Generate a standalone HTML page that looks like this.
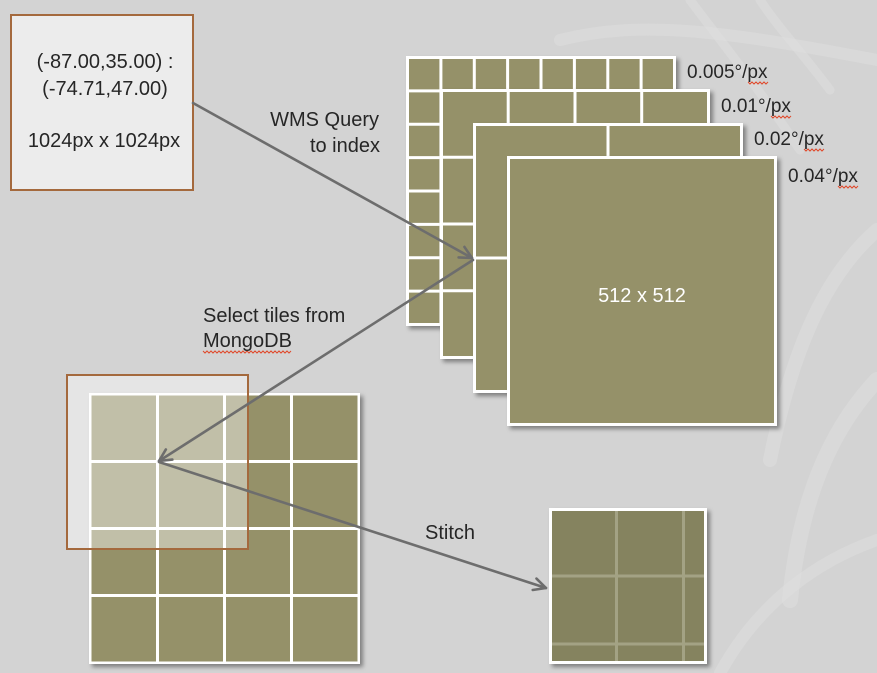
<!DOCTYPE html>
<html><head><meta charset="utf-8">
<style>
html,body{margin:0;padding:0;}
body{width:877px;height:673px;overflow:hidden;background:#d3d3d3;}
svg{display:block;}
text{font-family:"Liberation Sans",sans-serif;}
</style></head>
<body>
<svg width="877" height="673" viewBox="0 0 877 673" xmlns="http://www.w3.org/2000/svg">
<defs>
<filter id="sh" x="-10%" y="-10%" width="125%" height="125%">
<feDropShadow dx="3" dy="3" stdDeviation="2" flood-color="#000" flood-opacity="0.4"/>
</filter>
<marker id="ah" viewBox="0 0 16 16" refX="14" refY="8" markerWidth="16" markerHeight="16" markerUnits="userSpaceOnUse" orient="auto">
<path d="M2,2 L14,8 L2,14" fill="none" stroke="#6d6d6d" stroke-width="2.6" stroke-linecap="round" stroke-linejoin="round"/>
</marker>
</defs>

<!-- background -->
<rect x="0" y="0" width="877" height="673" fill="#d3d3d3"/>
<g fill="none" stroke="#dedede" stroke-opacity="0.6" stroke-linecap="round">
<path d="M560,40 C640,20 720,30 877,60" stroke-width="12"/>
<path d="M690,0 C720,40 760,90 800,150" stroke-width="9"/>
<path d="M760,0 C780,30 800,50 830,90" stroke-width="9"/>
<path d="M877,230 C820,280 790,360 770,460" stroke-width="14"/>
<path d="M877,380 C830,430 800,500 790,600" stroke-width="16"/>
<path d="M720,673 C760,600 820,560 877,540" stroke-width="12"/>
</g>

<!-- top-left query box -->
<rect x="11" y="15" width="182" height="175" fill="#ececec" stroke="#a4693d" stroke-width="2"/>
<g fill="#262626" font-size="20" text-anchor="middle">
<text x="105" y="68">(-87.00,35.00) :</text>
<text x="105" y="95">(-74.71,47.00)</text>
<text x="104" y="147">1024px x 1024px</text>
</g>

<!-- Layer 1: 8x8 -->
<g filter="url(#sh)">
<rect x="406" y="56" width="270" height="270" fill="#ffffff"/>
</g>
<rect x="409" y="59" width="264" height="264" fill="#959169"/>
<g stroke="#ffffff" stroke-width="3">
<line x1="440.9" y1="56" x2="440.9" y2="326"/>
<line x1="474.3" y1="56" x2="474.3" y2="326"/>
<line x1="507.6" y1="56" x2="507.6" y2="326"/>
<line x1="541" y1="56" x2="541" y2="326"/>
<line x1="574.4" y1="56" x2="574.4" y2="326"/>
<line x1="607.8" y1="56" x2="607.8" y2="326"/>
<line x1="641.1" y1="56" x2="641.1" y2="326"/>
<line x1="406" y1="90.9" x2="676" y2="90.9"/>
<line x1="406" y1="124.3" x2="676" y2="124.3"/>
<line x1="406" y1="157.6" x2="676" y2="157.6"/>
<line x1="406" y1="191" x2="676" y2="191"/>
<line x1="406" y1="224.4" x2="676" y2="224.4"/>
<line x1="406" y1="257.8" x2="676" y2="257.8"/>
<line x1="406" y1="291.1" x2="676" y2="291.1"/>
</g>

<!-- Layer 2: 4x4 -->
<g filter="url(#sh)">
<rect x="440" y="89" width="270" height="270" fill="#ffffff"/>
</g>
<rect x="443" y="92" width="264" height="264" fill="#959169"/>
<g stroke="#ffffff" stroke-width="3">
<line x1="508.2" y1="89" x2="508.2" y2="359"/>
<line x1="575" y1="89" x2="575" y2="359"/>
<line x1="641.7" y1="89" x2="641.7" y2="359"/>
<line x1="440" y1="157.2" x2="710" y2="157.2"/>
<line x1="440" y1="224" x2="710" y2="224"/>
<line x1="440" y1="290.7" x2="710" y2="290.7"/>
</g>

<!-- Layer 3: 2x2 -->
<g filter="url(#sh)">
<rect x="473" y="123" width="270" height="270" fill="#ffffff"/>
</g>
<rect x="476" y="126" width="264" height="264" fill="#959169"/>
<g stroke="#ffffff" stroke-width="3">
<line x1="608" y1="123" x2="608" y2="393"/>
<line x1="473" y1="258" x2="743" y2="258"/>
</g>

<!-- Layer 4: single -->
<g filter="url(#sh)">
<rect x="507" y="156" width="270" height="270" fill="#ffffff"/>
</g>
<rect x="510" y="159" width="264" height="264" fill="#959169"/>
<text x="642" y="302" font-size="20" fill="#ffffff" text-anchor="middle">512 x 512</text>

<!-- layer labels -->
<g fill="#262626" font-size="19">
<text x="687" y="78">0.005°/px</text>
<text x="721" y="112">0.01°/px</text>
<text x="754" y="145">0.02°/px</text>
<text x="788" y="182">0.04°/px</text>
</g>
<g fill="none" stroke="#e0482a" stroke-width="1">
<path d="M748,82 l2,2 l2,-2 l2,2 l2,-2 l2,2 l2,-2 l2,2 l2,-2 l2,2 l2,-2"/>
<path d="M771,116 l2,2 l2,-2 l2,2 l2,-2 l2,2 l2,-2 l2,2 l2,-2 l2,2 l2,-2"/>
<path d="M804,149 l2,2 l2,-2 l2,2 l2,-2 l2,2 l2,-2 l2,2 l2,-2 l2,2 l2,-2"/>
<path d="M838,186 l2,2 l2,-2 l2,2 l2,-2 l2,2 l2,-2 l2,2 l2,-2 l2,2 l2,-2"/>
<path d="M203,351 l2,2 l2,-2 l2,2 l2,-2 l2,2 l2,-2 l2,2 l2,-2 l2,2 l2,-2 l2,2 l2,-2 l2,2 l2,-2 l2,2 l2,-2 l2,2 l2,-2 l2,2 l2,-2 l2,2 l2,-2 l2,2 l2,-2 l2,2 l2,-2 l2,2 l2,-2 l2,2 l2,-2 l2,2 l2,-2 l2,2 l2,-2 l2,2 l2,-2 l2,2 l2,-2 l2,2 l2,-2 l2,2 l2,-2 l2,2 l2,-2"/>
</g>

<!-- bottom 4x4 grid -->
<g filter="url(#sh)">
<rect x="89" y="393" width="271" height="271" fill="#ffffff"/>
</g>
<rect x="91.5" y="395.5" width="266" height="266" fill="#959169"/>
<g stroke="#ffffff" stroke-width="3">
<line x1="157.5" y1="393" x2="157.5" y2="664"/>
<line x1="224.5" y1="393" x2="224.5" y2="664"/>
<line x1="291.5" y1="393" x2="291.5" y2="664"/>
<line x1="89" y1="461.5" x2="360" y2="461.5"/>
<line x1="89" y1="528.5" x2="360" y2="528.5"/>
<line x1="89" y1="595.5" x2="360" y2="595.5"/>
</g>
<!-- overlay box -->
<rect x="67" y="375" width="181" height="174" fill="#ffffff" fill-opacity="0.42" stroke="#a4693d" stroke-width="2"/>

<!-- stitched result -->
<g filter="url(#sh)">
<rect x="549" y="508" width="158" height="156" fill="#ffffff"/>
</g>
<rect x="552" y="511" width="152" height="150" fill="#85835f"/>
<g stroke="#a3a284" stroke-width="3">
<line x1="616.5" y1="511" x2="616.5" y2="661"/>
<line x1="683.5" y1="511" x2="683.5" y2="661"/>
<line x1="552" y1="576" x2="704" y2="576"/>
<line x1="552" y1="644" x2="704" y2="644"/>
</g>

<!-- labels -->
<g fill="#262626" font-size="20">
<text x="379" y="126" text-anchor="end">WMS Query</text>
<text x="380" y="152" text-anchor="end">to index</text>
<text x="203" y="322">Select tiles from</text>
<text x="203" y="347">MongoDB</text>
<text x="425" y="539">Stitch</text>
</g>

<!-- arrows -->
<g stroke="#6d6d6d" stroke-width="2.6" fill="none" stroke-linecap="round">
<line x1="193" y1="103" x2="472" y2="258" marker-end="url(#ah)"/>
<line x1="473" y1="260" x2="159" y2="461" marker-end="url(#ah)"/>
<line x1="159" y1="462" x2="546" y2="588" marker-end="url(#ah)"/>
</g>
</svg>
</body></html>
